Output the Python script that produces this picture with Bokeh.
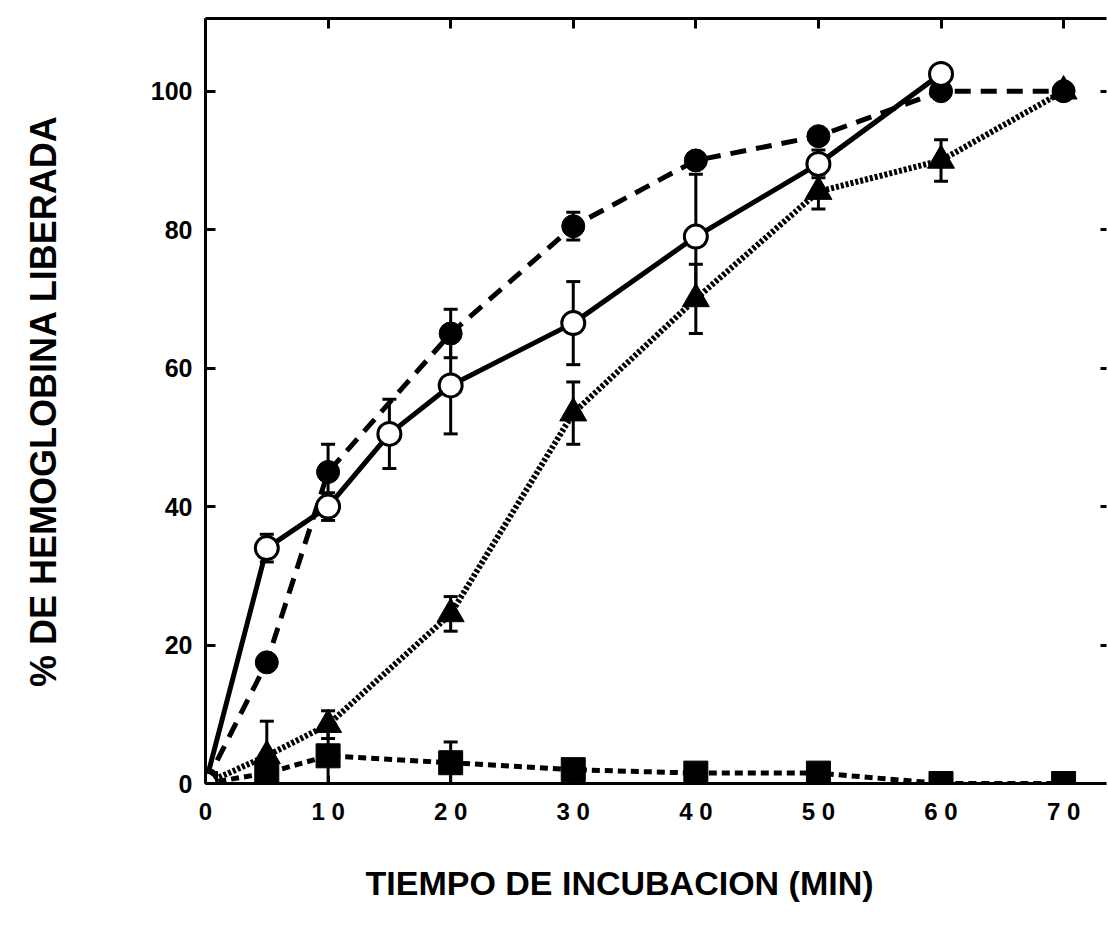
from bokeh.plotting import figure
from bokeh.models import (ColumnDataSource, Range1d, LinearAxis, FixedTicker,
                          Whisker, TeeHead, Title)
from bokeh.embed import file_html
from bokeh.resources import INLINE

# ---- data ----
t_abiertos = [0, 5, 10, 15, 20, 30, 40, 50, 60]
y_abiertos = [0, 34, 40, 50.5, 57.5, 66.5, 79, 89.5, 102.5]
e_abiertos = [0, 2, 2, 5, 7, 6, 9, 2, 0]

t_llenos = [0, 5, 10, 20, 30, 40, 50, 60, 70]
y_llenos = [0, 17.5, 45, 65, 80.5, 90, 93.5, 100, 100]
e_llenos = [0, 0, 4, 3.5, 2, 0, 0, 0, 0]

t_triang = [0, 5, 10, 20, 30, 40, 50, 60, 70]
y_triang = [0, 4, 8.5, 24.5, 53.5, 70, 85.5, 90, 100]
e_triang = [0, 5, 2, 2.5, 4.5, 5, 2.5, 3, 0]

t_cuad = [0, 5, 10, 20, 30, 40, 50, 60, 70]
y_cuad = [0, 1.5, 4, 3, 2, 1.5, 1.5, 0, 0]
e_cuad = [0, 0, 4, 3, 0, 0, 0, 0, 0]

x_ticks = [0, 10, 20, 30, 40, 50, 60, 70]
x_tick_labels = ["0", "1 0", "2 0", "3 0", "4 0", "5 0", "6 0", "7 0"]
y_ticks = [0, 20, 40, 60, 80, 100]

x_title = "TIEMPO DE INCUBACION (MIN)"
y_title = "% DE HEMOGLOBINA LIBERADA"

FONT = "Liberation Sans"

p = figure(width=1107, height=936, output_backend="svg", toolbar_location=None,
           x_range=Range1d(0, 73.5), y_range=Range1d(0, 110.5),
           x_axis_location=None, y_axis_location=None,
           min_border_left=205, min_border_right=1, min_border_top=18,
           min_border_bottom=153)
p.outline_line_color = None
p.xgrid.visible = False
p.ygrid.visible = False
p.background_fill_color = "white"
p.border_fill_color = "white"

# axes
xb = LinearAxis(ticker=FixedTicker(ticks=x_ticks),
                major_label_overrides={v: s for v, s in zip(x_ticks, x_tick_labels)})
xb.axis_line_width = 3
xb.major_tick_in = 8
xb.major_tick_out = 0
xb.major_tick_line_width = 3
xb.minor_tick_line_color = None
xb.major_label_text_font = FONT
xb.major_label_text_font_style = "bold"
xb.major_label_text_font_size = "24px"
xb.major_label_text_color = "black"
xb.major_label_standoff = 14
p.add_layout(xb, "below")

yl = LinearAxis(ticker=FixedTicker(ticks=y_ticks), axis_label=y_title)
yl.axis_line_width = 3
yl.major_tick_in = 10
yl.major_tick_out = 0
yl.major_tick_line_width = 3
yl.minor_tick_line_color = None
yl.major_label_text_font = FONT
yl.major_label_text_font_style = "bold"
yl.major_label_text_font_size = "25px"
yl.major_label_text_color = "black"
yl.major_label_standoff = 13
yl.axis_label_text_font = FONT
yl.axis_label_text_font_style = "bold"
yl.axis_label_text_font_size = "36px"
yl.axis_label_text_color = "black"
yl.axis_label_standoff = 84
p.add_layout(yl, "left")

xt = LinearAxis(ticker=FixedTicker(ticks=x_ticks))
xt.axis_line_width = 3
xt.major_tick_in = 10
xt.major_tick_out = 0
xt.major_tick_line_width = 3
xt.minor_tick_line_color = None
xt.major_label_text_font_size = "0px"
xt.major_label_standoff = 0
p.add_layout(xt, "above")

yr = LinearAxis(ticker=FixedTicker(ticks=y_ticks[1:]))
yr.axis_line_color = None
yr.major_tick_in = 6
yr.major_tick_out = 0
yr.major_tick_line_width = 3
yr.minor_tick_line_color = None
yr.major_label_text_font_size = "0px"
yr.major_label_standoff = 0
p.add_layout(yr, "right")

p.add_layout(Title(text=x_title, align="left", offset=160,
                   text_font=FONT, text_font_size="34px", text_font_style="bold",
                   text_color="black", standoff=68), "below")

# sources
src_a = ColumnDataSource(dict(x=t_abiertos, y=y_abiertos,
                              lo=[a - b for a, b in zip(y_abiertos, e_abiertos)],
                              hi=[a + b for a, b in zip(y_abiertos, e_abiertos)]))
src_l = ColumnDataSource(dict(x=t_llenos, y=y_llenos,
                              lo=[a - b for a, b in zip(y_llenos, e_llenos)],
                              hi=[a + b for a, b in zip(y_llenos, e_llenos)]))
src_t = ColumnDataSource(dict(x=t_triang, y=y_triang,
                              lo=[a - b for a, b in zip(y_triang, e_triang)],
                              hi=[a + b for a, b in zip(y_triang, e_triang)]))
src_c = ColumnDataSource(dict(x=t_cuad, y=y_cuad,
                              lo=[a - b for a, b in zip(y_cuad, e_cuad)],
                              hi=[a + b for a, b in zip(y_cuad, e_cuad)]))

# error bars
for src in (src_a, src_l, src_t, src_c):
    w = Whisker(source=src, base="x", upper="hi", lower="lo", dimension="height",
                line_width=3, line_color="black",
                upper_head=TeeHead(size=14, line_width=3, line_color="black"),
                lower_head=TeeHead(size=14, line_width=3, line_color="black"))
    p.add_layout(w)

# lines
p.line("x", "y", source=src_c, line_width=5, line_color="black", line_dash="8 5")
p.line("x", "y", source=src_t, line_width=6, line_color="black", line_dash="3 2")
p.line("x", "y", source=src_l, line_width=5, line_color="black", line_dash="16 10")
p.line("x", "y", source=src_a, line_width=5, line_color="black")

# markers
p.scatter("x", "y", source=src_c, marker="square", size=24, fill_color="black",
          line_color="black")
p.scatter("x", "y", source=src_t, marker="triangle", size=27, fill_color="black",
          line_color="black")
p.scatter("x", "y", source=src_l, marker="circle", size=23, fill_color="black",
          line_color="black")
p.scatter("x", "y", source=src_a, marker="circle", size=23, fill_color="white",
          line_color="black", line_width=3)

open("out.html", "w").write(file_html(p, INLINE))
